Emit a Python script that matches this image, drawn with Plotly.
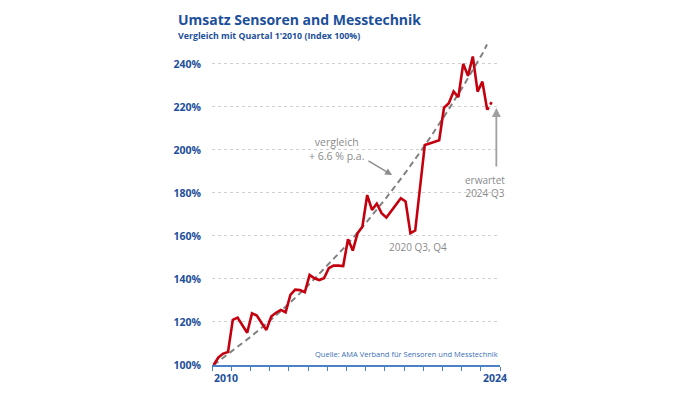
import plotly.graph_objects as go

# ---------------- data ----------------
quarters = [f"{y} Q{q}" for y in range(2010, 2025) for q in range(1, 5)][:59]
index_values = [
    100, 103.5, 105.3, 106, 121, 122, 118.5, 115, 124, 123,
    119.5, 116.3, 122.5, 124.3, 125.6, 124.5, 132.6, 135, 134.8, 133.8,
    141.9, 140.3, 139.5, 140.3, 145, 146.2, 146.2, 146, 158.5, 153.2,
    161.3, 164.3, 179, 172.1, 175, 170.6, 168.5, 171.5, 174.5, 177.5,
    176, 161.3, 162.5, 182, 202.3, 203, 203.8, 204.5, 219.6, 221.7,
    227.1, 224.5, 240, 234.4, 243.4, 227.1, 231.7, 218.6, 222.5,
]
# comparison line (+6.6 % p.a.), yearly points
trend_years = [2010, 2011, 2012, 2013, 2014, 2015, 2016, 2017, 2018, 2019,
               2020, 2021, 2022, 2023, 2024, 2024.24]
trend_values = [100, 106.6, 113.6, 121.1, 129.1, 137.7, 146.8, 156.4, 166.8,
                177.8, 189.5, 202.0, 215.4, 229.6, 244.7, 249.0]
y_ticks = [100, 120, 140, 160, 180, 200, 220, 240]
x_label_years = [2010, 2024]
x_labels = ["2010", "2024"]

# ---------------- styling ----------------
FONT = "Open Sans"
BLUE = "#1c4f9a"
AXIS_BLUE = "#4a80c4"
RED = "#c4000f"
GREY = "#8a8a8a"
OFF = 1 / 12

qx = [int(s[:4]) + (int(s[-1]) - 1) / 4 + OFF for s in quarters]
tx = [t + OFF for t in trend_years]

fig = go.Figure()
fig.add_trace(go.Scatter(x=tx, y=trend_values, mode="lines",
                         line=dict(color="#808080", width=2, dash="6px,4px"),
                         hoverinfo="skip", showlegend=False))
fig.add_trace(go.Scatter(x=qx[:-1], y=index_values[:-1], mode="lines",
                         line=dict(color=RED, width=2.6), showlegend=False))
fig.add_trace(go.Scatter(x=qx[-2:], y=index_values[-2:], mode="lines",
                         line=dict(color=RED, width=2.6, dash="dot"), showlegend=False))

fig.update_xaxes(range=[2010, 2025], showgrid=False, zeroline=False,
                 showline=True, linecolor=AXIS_BLUE, linewidth=1.5,
                 tickmode="array", tickvals=list(range(2010, 2026)),
                 ticks="outside", ticklen=4, tickcolor=AXIS_BLUE, tickwidth=1.2,
                 showticklabels=False)
fig.update_yaxes(range=[100, 252], tickmode="array", tickvals=y_ticks,
                 ticktext=[f"{v}%" for v in y_ticks],
                 tickfont=dict(family=FONT, size=10.5, color=BLUE, weight="bold"),
                 showgrid=True, gridcolor="#d0d0d0", griddash="dot", gridwidth=1,
                 zeroline=False, showline=False, ticks="", ticklabelstandoff=10)

ann = []
for yr, lab in zip(x_label_years, x_labels):
    ann.append(dict(x=yr, y=0, xref="x", yref="paper", text=lab, showarrow=False,
                    xanchor="left", yanchor="top", yshift=-4,
                    font=dict(family=FONT, size=10.5, color=BLUE, weight="bold")))
# titles
ann.append(dict(x=-0.125, y=1.058, xref="paper", yref="paper", xanchor="left",
                yanchor="middle", showarrow=False,
                text="Umsatz Sensoren and Messtechnik",
                font=dict(family=FONT, size=14, color=BLUE, weight="bold")))
ann.append(dict(x=-0.125, y=1.006, xref="paper", yref="paper", xanchor="left",
                yanchor="middle", showarrow=False,
                text="Vergleich mit Quartal 1'2010 (Index 100%)",
                font=dict(family=FONT, size=8.8, color=BLUE, weight="bold")))
# source
ann.append(dict(x=1.0, y=0.034, xref="paper", yref="paper", xanchor="right",
                yanchor="middle", showarrow=False,
                text="Quelle: AMA Verband für Sensoren und Messtechnik",
                font=dict(family=FONT, size=7.5, color="#3a6fb5")))
# grey texts
ann.append(dict(x=2016.5, y=200.5, xref="x", yref="y", showarrow=False,
                text="vergleich<br>+ 6.6 % p.a.", align="center",
                font=dict(family=FONT, size=10.5, color=GREY)))
ann.append(dict(x=2020.72, y=154.9, xref="x", yref="y", showarrow=False,
                text="2020 Q3, Q4", font=dict(family=FONT, size=10, color=GREY)))
ann.append(dict(x=2024.2, y=183, xref="x", yref="y", showarrow=False,
                text="erwartet<br>2024 Q3", align="center",
                font=dict(family=FONT, size=10, color=GREY)))
# arrows
ann.append(dict(x=2019.38, y=188.3, ax=2018.07, ay=195.3, xref="x", yref="y",
                axref="x", ayref="y", text="", showarrow=True,
                arrowhead=2, arrowsize=1, arrowwidth=1.4, arrowcolor="#8c8c8c"))
ann.append(dict(x=2024.81, y=219.5, ax=2024.81, ay=191.6, xref="x", yref="y",
                axref="x", ayref="y", text="", showarrow=True,
                arrowhead=2, arrowsize=1, arrowwidth=1.8, arrowcolor="#a0a0a0"))

fig.update_layout(width=695, height=395, margin=dict(l=204, r=203, t=30, b=38),
                  paper_bgcolor="white", plot_bgcolor="white",
                  annotations=ann, showlegend=False,
                  font=dict(family=FONT))
fig.write_html("out.html")
